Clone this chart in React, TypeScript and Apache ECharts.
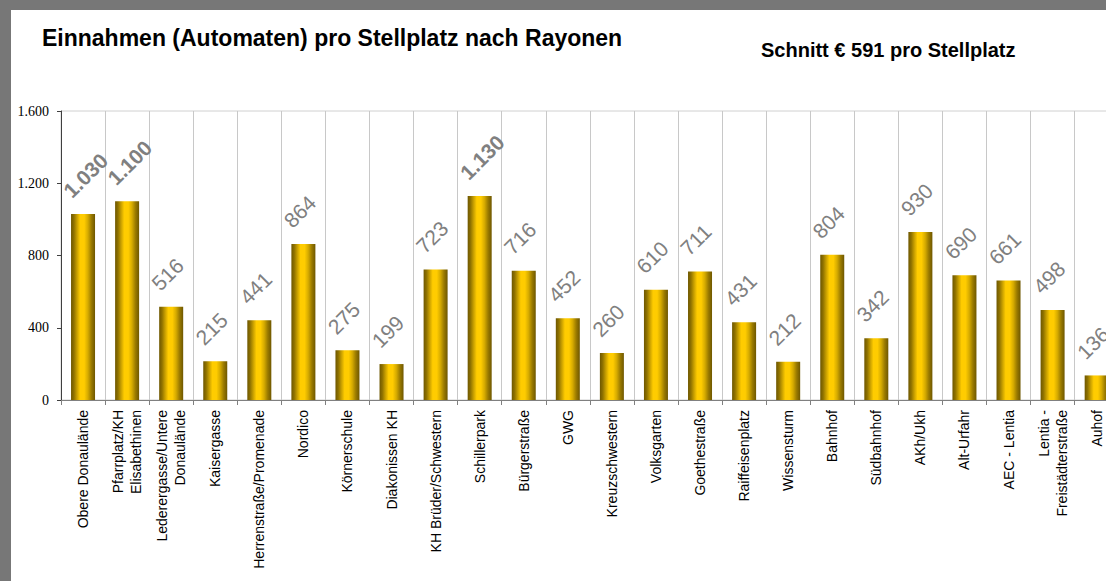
import React, { useEffect, useRef } from "react";
import * as echarts from "echarts";

const categories: string[] = [
  "Obere Donaulände",
  "Pfarrplatz/KH\nElisabethinen",
  "Lederergasse/Untere\nDonaulände",
  "Kaisergasse",
  "Herrenstraße/Promenade",
  "Nordico",
  "Körnerschule",
  "Diakonissen KH",
  "KH Brüder/Schwestern",
  "Schillerpark",
  "Bürgerstraße",
  "GWG",
  "Kreuzschwestern",
  "Volksgarten",
  "Goethestraße",
  "Raiffeisenplatz",
  "Wissensturm",
  "Bahnhof",
  "Südbahnhof",
  "AKh/Ukh",
  "Alt-Urfahr",
  "AEC - Lentia",
  "Lentia -\nFreistädterstraße",
  "Auhof",
];

const values: number[] = [
  1030, 1100, 516, 215, 441, 864, 275, 199, 723, 1130, 716, 452, 260, 610,
  711, 431, 212, 804, 342, 930, 690, 661, 498, 136,
];

const yTicks: number[] = [0, 400, 800, 1200, 1600];

const titleText = "Einnahmen (Automaten) pro Stellplatz nach Rayonen";
const subtitleText = "Schnitt € 591 pro Stellplatz";

const fmt = (v: number) =>
  String(Math.round(v)).replace(/\B(?=(\d{3})+(?!\d))/g, ".");

export default function App() {
  const ref = useRef<HTMLDivElement>(null);

  useEffect(() => {
    document.body.style.margin = "0";
    if (!ref.current) return;
    const chart = echarts.init(ref.current, undefined, { renderer: "svg" });

    const barGradient = new echarts.graphic.LinearGradient(0, 0, 1, 0, [
      { offset: 0, color: "#6e5700" },
      { offset: 0.12, color: "#8f7200" },
      { offset: 0.25, color: "#c9a000" },
      { offset: 0.38, color: "#ffcc00" },
      { offset: 0.55, color: "#ffcc00" },
      { offset: 0.7, color: "#d6ab00" },
      { offset: 0.85, color: "#9a7a00" },
      { offset: 1, color: "#6e5700" },
    ]);

    chart.setOption({
      animation: false,
      backgroundColor: "#ffffff",
      title: [
        {
          text: titleText,
          left: 42,
          top: 26,
          padding: 0,
          textStyle: {
            fontFamily: "Liberation Sans, Arial, sans-serif",
            fontWeight: "bold",
            fontSize: 23,
            color: "#000000",
          },
        },
        {
          text: subtitleText,
          left: 761,
          top: 40,
          padding: 0,
          textStyle: {
            fontFamily: "Liberation Sans, Arial, sans-serif",
            fontWeight: "bold",
            fontSize: 20,
            color: "#000000",
          },
        },
      ],
      grid: {
        left: 61,
        top: 111,
        width: 1057.7,
        height: 289,
        show: true,
        borderColor: "#d0d0d0",
        borderWidth: 1,
        backgroundColor: "transparent",
        containLabel: false,
        outerBoundsMode: "none",
      },
      xAxis: {
        type: "category",
        data: categories,
        boundaryGap: true,
        axisLine: { show: true, lineStyle: { color: "#808080", width: 1 } },
        axisTick: {
          show: true,
          alignWithLabel: false,
          interval: 0,
          length: 5,
          lineStyle: { color: "#808080" },
        },
        splitLine: {
          show: true,
          interval: 0,
          lineStyle: { color: "#c8c8c8", width: 1 },
        },
        axisLabel: {
          interval: 0,
          rotate: 90,
          margin: 10,
          hideOverlap: false,
          fontFamily: "Liberation Sans, Arial, sans-serif",
          fontSize: 14,
          lineHeight: 18,
          color: "#000000",
        },
      },
      yAxis: {
        type: "value",
        min: 0,
        max: yTicks[yTicks.length - 1],
        interval: yTicks[1] - yTicks[0],
        axisLine: { show: true, lineStyle: { color: "#404040", width: 1 } },
        axisTick: { show: true, length: 4, lineStyle: { color: "#404040" } },
        splitLine: { show: false },
        axisLabel: {
          margin: 12,
          fontFamily: "Liberation Serif, Times New Roman, serif",
          fontSize: 14,
          color: "#000000",
          formatter: (v: number) => fmt(v),
        },
      },
      series: [
        {
          type: "bar",
          data: values.map((v) => ({
            value: v,
            label: v >= 1000 ? { fontWeight: "bold" } : undefined,
          })),
          barWidth: 24,
          itemStyle: { color: barGradient },
          label: {
            show: true,
            position: [-4, -20],
            rotate: 45,
            align: "left",
            verticalAlign: "middle",
            fontFamily: "Liberation Sans, Arial, sans-serif",
            fontSize: 21,
            color: "#808080",
            formatter: (p: any) => fmt(p.value),
          },
        },
      ],
      graphic: [
        {
          type: "rect",
          left: 0,
          top: 0,
          z: 100,
          shape: { x: 0, y: 0, width: 1106, height: 10 },
          style: { fill: "#777777" },
        },
        {
          type: "rect",
          left: 0,
          top: 0,
          z: 100,
          shape: { x: 0, y: 0, width: 11, height: 581 },
          style: { fill: "#777777" },
        },
      ],
    });

    return () => chart.dispose();
  }, []);

  return <div ref={ref} style={{ width: 1106, height: 581 }} />;
}
